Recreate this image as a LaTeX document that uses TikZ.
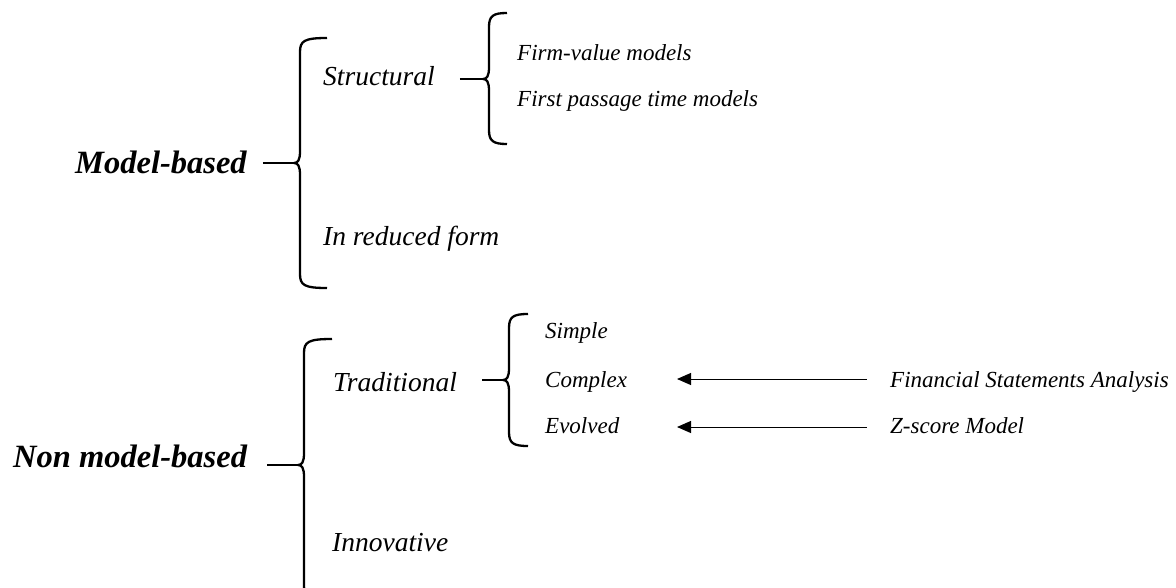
\documentclass[tikz,border=0pt]{standalone}
\usepackage{fontspec}
\setmainfont{Liberation Serif}
\usetikzlibrary{arrows.meta}

% left curly brace: #1 tip name, #2 spine x, #3 top y, #4 tip y, #5 bottom y, #6 tail end x
\newcommand{\drawbrace}[6]{%
  \coordinate (#1) at (#2-6,#4);
  \draw[bracestyle] (#6,#3) .. controls (#2+4,#3) and (#2,#3+3) .. (#2,#3+14)
    -- (#2,#4-12) .. controls (#2,#4-3) and (#2-2,#4) .. (#2-6,#4)
    .. controls (#2-2,#4) and (#2,#4+3) .. (#2,#4+12)
    -- (#2,#5-14) .. controls (#2,#5-3) and (#2+4,#5) .. (#6,#5);
}

\tikzset{
  bracestyle/.style={line width=2.3pt, line join=round},
  stem/.style={line width=2pt},
  arr/.style={line width=1pt, {Triangle[length=14pt,width=12pt]}-},
  lbl/.style={inner sep=0pt, anchor=base west, font=\itshape\fontsize{23}{27}\selectfont},
  sub/.style={inner sep=0pt, anchor=base west, font=\itshape\fontsize{27.5}{32}\selectfont},
  head/.style={inner sep=0pt, anchor=base west, font=\bfseries\itshape\fontsize{32.5}{38}\selectfont},
}

\begin{document}
\begin{tikzpicture}[x=1pt, y=-1pt]
\useasboundingbox (0,0) rectangle (1176,587);

% model-based branch
\node[head] (mb) at (75,173) {Model-based};
\drawbrace{b1}{300}{38}{163}{288}{327}
\draw[stem, shorten <=16pt] (mb.east |- b1) -- (b1);

\node[sub] (st) at (323,85) {Structural};
\node[sub] (rf) at (323,245) {In reduced form};
\drawbrace{b2}{489}{13}{79}{144}{507}
\draw[stem, shorten <=25pt] (st.east |- b2) -- (b2);

\node[lbl] (fv) at (517,60) {Firm-value models};
\node[lbl] (fp) at (517,106) {First passage time models};

% non model-based branch
\node[head] (nmb) at (13,467) {Non model-based};
\drawbrace{b3}{304}{339}{465}{600}{332}
\draw[stem, shorten <=20pt] (nmb.east |- b3) -- (b3);

\node[sub] (tr) at (333,391) {Traditional};
\node[sub] (in) at (332,551) {Innovative};
\drawbrace{b4}{509}{314}{380}{446}{528}
\draw[stem, shorten <=25pt] (tr.east |- b4) -- (b4);

\node[lbl] (si) at (545,338) {Simple};
\node[lbl] (co) at (545,387) {Complex};
\node[lbl] (ev) at (545,433) {Evolved};

\node[lbl] (fsa) at (890,387) {Financial Statements Analysis};
\node[lbl] (zs) at (890,433) {Z-score Model};

% arrows pointing back at the traditional sub-types
\coordinate (t1) at (677,379);
\coordinate (t2) at (677,427);
\draw[arr, shorten >=23pt] (t1) -- (fsa.west |- t1);
\draw[arr, shorten >=23pt] (t2) -- (zs.west |- t2);
\end{tikzpicture}
\end{document}
